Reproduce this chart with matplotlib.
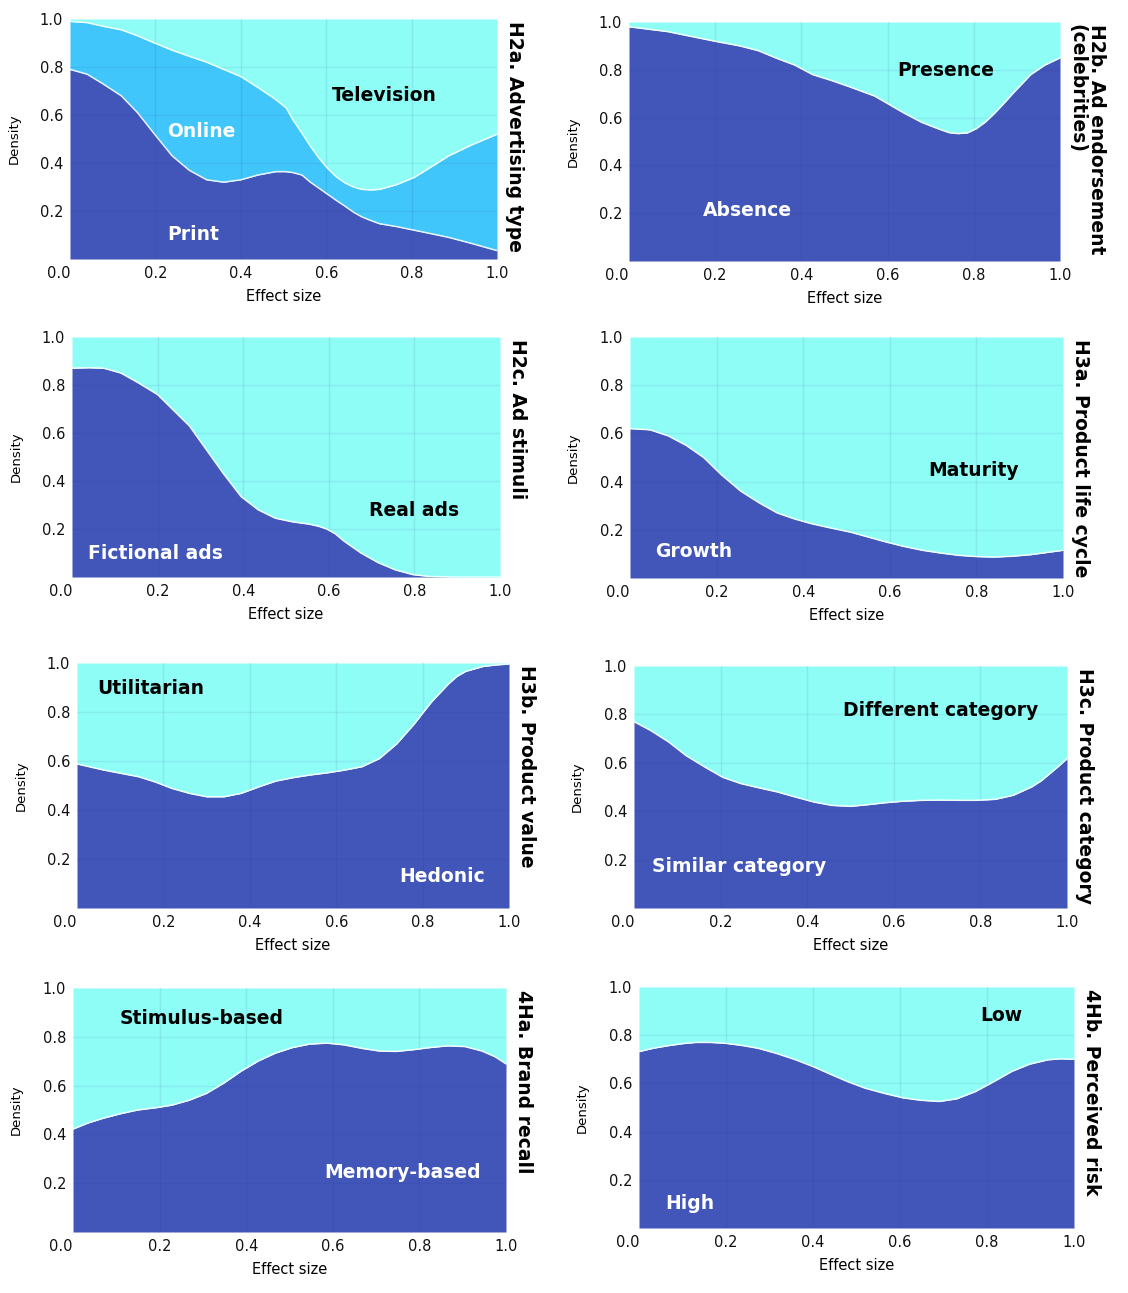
import numpy as np
import matplotlib
matplotlib.use("Agg")
import matplotlib.pyplot as plt

# colours
DARK = "#4156B8"
CYAN = "#8EFDF6"
MID = "#40C6FA"

# H2a. Advertising type (Print / Online / Television)
h2a_x = [0, .04, .077, .12, .158, .198, .239, .279, .32, .36, .40, .44, .482, .506, .522, .543, .563, .583,
         .603, .623, .644, .664, .684, .705, .725, .765, .806, .847, .887, .94, 1.0]
h2a_print = [.79, .77, .73, .68, .61, .52, .43, .37, .33, .32, .33, .35, .364, .364, .36, .35, .32, .295,
             .27, .245, .22, .195, .175, .16, .147, .135, .12, .105, .09, .065, .035]
h2a_online = [.99, .985, .97, .955, .93, .90, .87, .845, .82, .79, .76, .715, .664, .63, .58, .525, .47, .42,
              .378, .343, .317, .30, .29, .288, .29, .31, .34, .385, .43, .475, .52]

# H2b. Ad endorsement
h2b_x = [0, .089, .198, .257, .30, .34, .384, .426, .47, .51, .57, .637, .679, .722, .743, .764, .785, .806,
         .827, .848, .87, .89, .932, .965, 1.0]
h2b_absence = [.98, .96, .92, .90, .88, .85, .82, .78, .755, .73, .69, .62, .58, .55, .537, .533, .536, .554,
               .582, .618, .66, .70, .78, .82, .85]

# H2c. Ad stimuli
h2c_x = [0, .04, .074, .114, .154, .2, .234, .274, .314, .354, .395, .435, .475, .515, .555, .575, .595, .615,
         .635, .675, .715, .755, .796, .836, .9, 1.0]
h2c_fictional = [.87, .872, .87, .85, .81, .76, .70, .63, .53, .43, .335, .28, .245, .23, .22, .212, .20, .18,
                 .15, .10, .06, .03, .01, .002, 0, 0]

# H3a. Product life cycle
h3a_x = [0, .046, .088, .13, .17, .21, .256, .30, .34, .38, .42, .465, .51, .55, .59, .63, .675, .72, .76, .80,
         .84, .88, .926, 1.0]
h3a_growth = [.62, .615, .59, .55, .50, .43, .36, .31, .27, .245, .225, .207, .19, .17, .15, .132, .115, .103,
              .094, .089, .087, .09, .097, .115]

# H3b. Product value
h3b_x = [0, .062, .142, .18, .22, .26, .30, .34, .38, .42, .46, .50, .54, .58, .62, .66, .70, .74, .78, .82,
         .86, .88, .90, .94, .97, 1.0]
h3b_hedonic = [.588, .563, .536, .515, .488, .468, .454, .454, .468, .494, .518, .532, .543, .552, .563, .577,
               .61, .67, .75, .84, .915, .946, .966, .986, .992, .996]

# H3c. Product category
h3c_x = [0, .038, .08, .12, .163, .205, .247, .29, .33, .37, .415, .457, .50, .54, .58, .62, .666, .71, .75,
         .79, .834, .876, .918, .94, .96, .98, 1.0]
h3c_similar = [.77, .734, .686, .63, .583, .54, .514, .496, .48, .46, .438, .424, .42, .427, .435, .441, .445,
               .446, .445, .445, .449, .466, .50, .525, .555, .585, .617]

# 4Ha. Brand recall
h4a_x = [0, .035, .069, .11, .149, .194, .228, .268, .308, .348, .387, .427, .467, .507, .546, .586, .626, .666,
         .706, .745, .785, .825, .865, .905, .944, .975, 1.0]
h4a_memory = [.422, .447, .466, .485, .50, .51, .52, .54, .568, .61, .658, .70, .733, .756, .77, .774, .767,
              .753, .742, .74, .747, .756, .763, .76, .742, .718, .689]

# 4Hb. Perceived risk
h4b_x = [0, .033, .065, .1, .13, .163, .196, .235, .273, .315, .357, .40, .44, .48, .52, .565, .607, .648, .69,
         .73, .773, .815, .857, .898, .94, .97, 1.0]
h4b_high = [.732, .746, .756, .765, .77, .77, .767, .758, .746, .725, .70, .67, .638, .607, .58, .558, .54, .53,
            .525, .536, .566, .607, .65, .68, .698, .702, .70]

W, H = 1128, 1293
fig = plt.figure(figsize=(W / 100, H / 100), dpi=100)


def make_ax(l, r, t, b):
    ax = fig.add_axes([l / W, 1 - b / H, (r - l) / W, (b - t) / H])
    ax.set_xlim(0, 1)
    ax.set_ylim(0, 1)
    for s in ax.spines.values():
        s.set_visible(False)
    ax.set_xticks([0, .2, .4, .6, .8, 1.0])
    ax.set_xticklabels(["0.0", "0.2", "0.4", "0.6", "0.8", "1.0"])
    ax.set_yticks([.2, .4, .6, .8, 1.0])
    ax.set_yticklabels(["0.2", "0.4", "0.6", "0.8", "1.0"])
    ax.get_xticklabels()[0].set_horizontalalignment("right")
    ax.tick_params(length=0, labelsize=10.5, colors="#111111", pad=5)
    ax.set_xlabel("Effect size", fontsize=10.5, labelpad=6)
    ax.set_ylabel("Density", fontsize=9.5)
    ax.yaxis.set_label_coords(-0.115, 0.5)
    return ax


def finish(ax, title):
    # faint grid over the filled areas
    for v in [.2, .4, .6, .8]:
        ax.axvline(v, color="#1A2A80", alpha=0.09, lw=1, zorder=3)
        ax.axhline(v, color="#1A2A80", alpha=0.07, lw=1, zorder=3)
    ax.text(1.018, 0.99, title, rotation=-90, transform=ax.transAxes,
            ha="left", va="top", fontsize=13.5, fontweight="bold",
            linespacing=1.0)


def lab(ax, x, y, s, c):
    ax.text(x, y, s, color=c, fontsize=13.5, fontweight="bold",
            ha="center", va="center", zorder=5)


def two(ax, x, y):
    ax.fill_between(x, 0, y, color=DARK, lw=0, zorder=1)
    ax.fill_between(x, y, 1, color=CYAN, lw=0, zorder=1)
    ax.plot(x, y, color="white", lw=1.1, alpha=0.85, zorder=4,
            solid_joinstyle="round")


# H2a
ax = make_ax(70, 497, 19, 259)
ax.fill_between(h2a_x, 0, h2a_print, color=DARK, lw=0, zorder=1)
ax.fill_between(h2a_x, h2a_print, h2a_online, color=MID, lw=0, zorder=1)
ax.fill_between(h2a_x, h2a_online, 1, color=CYAN, lw=0, zorder=1)
ax.plot(h2a_x, h2a_print, color="white", lw=1.1, alpha=0.85, zorder=4)
ax.plot(h2a_x, h2a_online, color="white", lw=1.1, alpha=0.85, zorder=4)
lab(ax, .735, .68, "Television", "black")
lab(ax, .307, .53, "Online", "white")
lab(ax, .288, .10, "Print", "white")
finish(ax, "H2a. Advertising type")

# H2b
ax = make_ax(629, 1060, 22, 261)
two(ax, h2b_x, h2b_absence)
lab(ax, .735, .795, "Presence", "black")
lab(ax, .274, .21, "Absence", "white")
finish(ax, "H2b. Ad endorsement\n(celebrities)")

# H2c
ax = make_ax(72, 500, 337, 577)
two(ax, h2c_x, h2c_fictional)
lab(ax, .80, .275, "Real ads", "black")
lab(ax, .194, .096, "Fictional ads", "white")
finish(ax, "H2c. Ad stimuli")

# H3a
ax = make_ax(630, 1063, 337, 578)
two(ax, h3a_x, h3a_growth)
lab(ax, .794, .448, "Maturity", "black")
lab(ax, .148, .108, "Growth", "white")
finish(ax, "H3a. Product life cycle")

# H3b
ax = make_ax(77, 509, 663, 908)
two(ax, h3b_x, h3b_hedonic)
lab(ax, .171, .894, "Utilitarian", "black")
lab(ax, .845, .13, "Hedonic", "white")
finish(ax, "H3b. Product value")

# H3c
ax = make_ax(634, 1067, 666, 908)
two(ax, h3c_x, h3c_similar)
lab(ax, .709, .818, "Different category", "black")
lab(ax, .243, .17, "Similar category", "white")
finish(ax, "H3c. Product category")

# 4Ha
ax = make_ax(73, 506, 988, 1232)
two(ax, h4a_x, h4a_memory)
lab(ax, .298, .877, "Stimulus-based", "black")
lab(ax, .762, .242, "Memory-based", "white")
finish(ax, "4Ha. Brand recall")

# 4Hb
ax = make_ax(639, 1074, 987, 1228)
two(ax, h4b_x, h4b_high)
lab(ax, .832, .88, "Low", "black")
lab(ax, .117, .10, "High", "white")
finish(ax, "4Hb. Perceived risk")

fig.savefig("out.png", dpi=100)
